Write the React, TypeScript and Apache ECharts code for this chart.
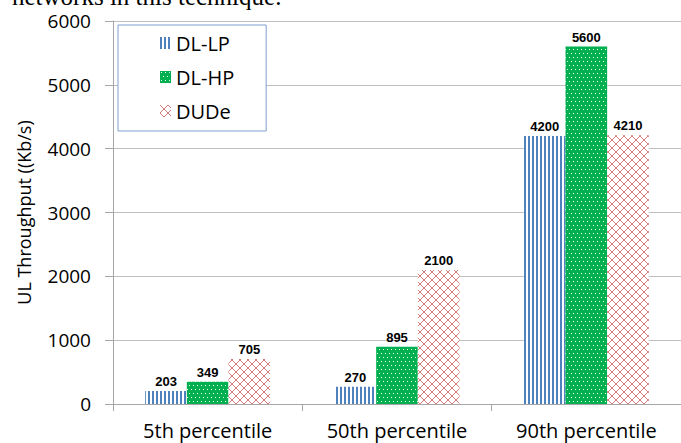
import React, { useEffect, useRef } from "react";
import * as echarts from "echarts";

const categories = ["5th percentile", "50th percentile", "90th percentile"];
const dlLp = [203, 270, 4200];
const dlHp = [349, 895, 5600];
const dude = [705, 2100, 4210];
const seriesNames = ["DL-LP", "DL-HP", "DUDe"];
const yTicks = { min: 0, max: 6000, interval: 1000 };

function makeCanvas(w: number, h: number, draw: (c: CanvasRenderingContext2D) => void) {
  const cv = document.createElement("canvas");
  cv.width = w;
  cv.height = h;
  const ctx = cv.getContext("2d")!;
  draw(ctx);
  return cv;
}

export default function App() {
  const ref = useRef<HTMLDivElement>(null);
  useEffect(() => {
    document.body.style.margin = "0";
    const chart = echarts.init(ref.current!, null, { renderer: "svg" });
    const blue = makeCanvas(4, 4, (c) => {
      c.fillStyle = "#ffffff";
      c.fillRect(0, 0, 4, 4);
      c.fillStyle = "#4f81bd";
      c.fillRect(0, 0, 2, 4);
    });
    const green = makeCanvas(8, 8, (c) => {
      c.fillStyle = "#00b050";
      c.fillRect(0, 0, 8, 8);
      c.fillStyle = "#e8fff0";
      c.fillRect(1, 1, 1, 1);
      c.fillRect(5, 1, 1, 1);
      c.fillRect(3, 5, 1, 1);
      c.fillRect(7, 5, 1, 1);
    });
    const pink = makeCanvas(8, 8, (c) => {
      c.fillStyle = "#ffffff";
      c.fillRect(0, 0, 8, 8);
      c.strokeStyle = "#c0504d";
      c.globalAlpha = 0.75;
      c.lineWidth = 1;
      c.beginPath();
      c.moveTo(0, 0);
      c.lineTo(8, 8);
      c.moveTo(8, 0);
      c.lineTo(0, 8);
      c.stroke();
    });
    const patterns = [blue, green, pink];
    const data = [dlLp, dlHp, dude];
    const font = "'Open Sans', 'Noto Sans', sans-serif";
    chart.setOption({
      animation: false,
      backgroundColor: "#ffffff",
      grid: { left: 113, right: -2, top: 21, bottom: 39, containLabel: false },
      legend: {
        orient: "vertical",
        left: 118,
        top: 25,
        padding: [8, 32, 10, 42],
        itemGap: 14,
        itemWidth: 11,
        itemHeight: 12,
        borderColor: "#7f9fcf",
        borderWidth: 1,
        backgroundColor: "#ffffff",
        textStyle: { fontFamily: font, fontSize: 20, color: "#000" },
        data: seriesNames.map((n) => ({ name: n, icon: "rect" })),
      },
      graphic: [
        {
          type: "text",
          left: 12,
          top: -16,
          style: {
            text: "networks in this technique.",
            fontFamily: "'Liberation Serif', 'DejaVu Serif', serif",
            fontSize: 25,
            fill: "#000",
          },
        },
      ],
      xAxis: {
        type: "category",
        data: categories,
        axisLine: { show: true, lineStyle: { color: "#a6a6a6", width: 1 } },
        axisTick: { show: true, length: 7, interval: 0, lineStyle: { color: "#a6a6a6" } },
        axisLabel: { fontFamily: font, fontSize: 20, color: "#000", margin: 16, interval: 0 },
      },
      yAxis: {
        type: "value",
        min: yTicks.min,
        max: yTicks.max,
        interval: yTicks.interval,
        name: "UL Throughput ((Kb/s)",
        nameLocation: "middle",
        nameGap: 80,
        nameRotate: 90,
        nameTextStyle: { fontFamily: font, fontSize: 18, color: "#000" },
        axisLine: { show: true, lineStyle: { color: "#a6a6a6" } },
        axisTick: { show: true, length: 8, lineStyle: { color: "#a6a6a6" } },
        splitLine: { lineStyle: { color: "#bfbfbf" } },
        axisLabel: {
          fontFamily: font,
          fontSize: 19,
          color: "#000",
          margin: 22,
          formatter: (v: number) => String(v),
        },
      },
      series: seriesNames.map((n, i) => ({
        name: n,
        type: "bar",
        data: data[i],
        barGap: "0%",
        barCategoryGap: "34%",
        itemStyle: { color: { image: patterns[i], repeat: "repeat" } },
        label: {
          show: true,
          position: "top",
          distance: 3,
          fontFamily: "'Liberation Sans', Arial, sans-serif",
          fontWeight: "bold",
          fontSize: 13,
          color: "#000",
        },
      })),
    });
    return () => chart.dispose();
  }, []);
  return <div ref={ref} style={{ position: "absolute", left: 0, top: 0, width: 681, height: 443 }} />;
}
